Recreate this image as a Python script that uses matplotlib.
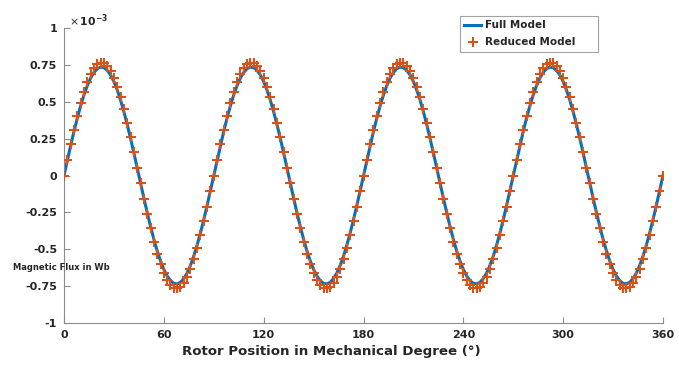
import matplotlib
matplotlib.use("Agg")
import matplotlib.pyplot as plt
import numpy as np

# rotor position in mechanical degrees, 2 degree steps
position = np.arange(0, 361, 2)

# flux values in 1e-3 Wb
full_model = [
    0.0, 0.102, 0.203, 0.299, 0.389, 0.472, 0.546, 0.609, 0.661, 0.699, 0.724, 0.735,
    0.731, 0.713, 0.681, 0.637, 0.579, 0.511, 0.432, 0.345, 0.251, 0.153, 0.051,
    -0.051, -0.153, -0.251, -0.345, -0.432, -0.511, -0.579, -0.637, -0.681, -0.713, -0.731,
    -0.735, -0.724, -0.699, -0.661, -0.609, -0.546, -0.472, -0.389, -0.299, -0.203, -0.102,
    0.0, 0.102, 0.203, 0.299, 0.389, 0.472, 0.546, 0.609, 0.661, 0.699, 0.724, 0.735,
    0.731, 0.713, 0.681, 0.637, 0.579, 0.511, 0.432, 0.345, 0.251, 0.153, 0.051,
    -0.051, -0.153, -0.251, -0.345, -0.432, -0.511, -0.579, -0.637, -0.681, -0.713, -0.731,
    -0.735, -0.724, -0.699, -0.661, -0.609, -0.546, -0.472, -0.389, -0.299, -0.203, -0.102,
    0.0, 0.102, 0.203, 0.299, 0.389, 0.472, 0.546, 0.609, 0.661, 0.699, 0.724, 0.735,
    0.731, 0.713, 0.681, 0.637, 0.579, 0.511, 0.432, 0.345, 0.251, 0.153, 0.051,
    -0.051, -0.153, -0.251, -0.345, -0.432, -0.511, -0.579, -0.637, -0.681, -0.713, -0.731,
    -0.735, -0.724, -0.699, -0.661, -0.609, -0.546, -0.472, -0.389, -0.299, -0.203, -0.102,
    0.0, 0.102, 0.203, 0.299, 0.389, 0.472, 0.546, 0.609, 0.661, 0.699, 0.724, 0.735,
    0.731, 0.713, 0.681, 0.637, 0.579, 0.511, 0.432, 0.345, 0.251, 0.153, 0.051,
    -0.051, -0.153, -0.251, -0.345, -0.432, -0.511, -0.579, -0.637, -0.681, -0.713, -0.731,
    -0.735, -0.724, -0.699, -0.661, -0.609, -0.546, -0.472, -0.389, -0.299, -0.203, -0.102,
    0.0,
]

reduced_model = [
    0.0, 0.106, 0.211, 0.311, 0.405, 0.492, 0.568, 0.634, 0.688, 0.728, 0.753, 0.765,
    0.761, 0.742, 0.709, 0.662, 0.603, 0.531, 0.450, 0.359, 0.262, 0.159, 0.053,
    -0.053, -0.159, -0.262, -0.359, -0.450, -0.531, -0.603, -0.662, -0.709, -0.742, -0.761,
    -0.765, -0.753, -0.728, -0.688, -0.634, -0.568, -0.492, -0.405, -0.311, -0.211, -0.106,
    0.0, 0.106, 0.211, 0.311, 0.405, 0.492, 0.568, 0.634, 0.688, 0.728, 0.753, 0.765,
    0.761, 0.742, 0.709, 0.662, 0.603, 0.531, 0.450, 0.359, 0.262, 0.159, 0.053,
    -0.053, -0.159, -0.262, -0.359, -0.450, -0.531, -0.603, -0.662, -0.709, -0.742, -0.761,
    -0.765, -0.753, -0.728, -0.688, -0.634, -0.568, -0.492, -0.405, -0.311, -0.211, -0.106,
    0.0, 0.106, 0.211, 0.311, 0.405, 0.492, 0.568, 0.634, 0.688, 0.728, 0.753, 0.765,
    0.761, 0.742, 0.709, 0.662, 0.603, 0.531, 0.450, 0.359, 0.262, 0.159, 0.053,
    -0.053, -0.159, -0.262, -0.359, -0.450, -0.531, -0.603, -0.662, -0.709, -0.742, -0.761,
    -0.765, -0.753, -0.728, -0.688, -0.634, -0.568, -0.492, -0.405, -0.311, -0.211, -0.106,
    0.0, 0.106, 0.211, 0.311, 0.405, 0.492, 0.568, 0.634, 0.688, 0.728, 0.753, 0.765,
    0.761, 0.742, 0.709, 0.662, 0.603, 0.531, 0.450, 0.359, 0.262, 0.159, 0.053,
    -0.053, -0.159, -0.262, -0.359, -0.450, -0.531, -0.603, -0.662, -0.709, -0.742, -0.761,
    -0.765, -0.753, -0.728, -0.688, -0.634, -0.568, -0.492, -0.405, -0.311, -0.211, -0.106,
    0.0,
]

x_ticks = [0, 60, 120, 180, 240, 300, 360]
y_ticks = [-1, -0.75, -0.5, -0.25, 0, 0.25, 0.5, 0.75, 1]
y_tick_labels = ["-1", "-0.75", "-0.5", "-0.25", "0", "0.25", "0.5", "0.75", "1"]

text_col = "#262626"
axis_col = "#8c8c8c"

fig = plt.figure(figsize=(6.79, 3.77), dpi=100)
ax = fig.add_axes([64 / 679, 1 - 323 / 377, 599 / 679, 295 / 377])

ax.plot(position, full_model, color="#0072BD", lw=2.2, label="Full Model", zorder=2)
ax.plot(position, reduced_model, ls="none", marker="+", ms=7, mew=1.5,
        color="#D95319", label="Reduced Model", zorder=3)

ax.set_xlim(0, 360)
ax.set_ylim(-1, 1)
ax.set_xticks(x_ticks)
ax.set_yticks(y_ticks)
ax.set_yticklabels(y_tick_labels)
for lab in ax.get_xticklabels() + ax.get_yticklabels():
    lab.set_fontweight("bold")
    lab.set_fontsize(8)
    lab.set_color(text_col)
ax.tick_params(direction="in", length=4, color=axis_col, pad=5)
ax.spines["top"].set_visible(False)
ax.spines["right"].set_visible(False)
ax.spines["left"].set_color(axis_col)
ax.spines["bottom"].set_color(axis_col)

fig.text(331 / 679, 1 - 352 / 377, "Rotor Position in Mechanical Degree (°)",
         ha="center", va="center", fontsize=9.6, fontweight="bold", color=text_col)
fig.text(13 / 679, 1 - 268 / 377, "Magnetic Flux in Wb", ha="left", va="center",
         fontsize=6, fontweight="bold", color=text_col)
fig.text(69 / 679, 1 - 21 / 377, r"$\times\,\mathbf{10^{-3}}$", ha="left", va="center",
         fontsize=7.8, color=text_col)

leg = fig.legend(loc="upper left", mode="expand",
                 bbox_to_anchor=(460 / 679, 1 - 54 / 377, 138 / 679, 38 / 377),
                 borderaxespad=0, prop={"weight": "bold", "size": 7.5}, frameon=True,
                 fancybox=False, edgecolor="#8c8c8c", handlelength=1.6, borderpad=0.4,
                 labelspacing=0.7, handletextpad=0.4)
leg.get_frame().set_linewidth(0.8)
for t in leg.get_texts():
    t.set_color(text_col)

fig.savefig("out.png", dpi=100, facecolor="white")
